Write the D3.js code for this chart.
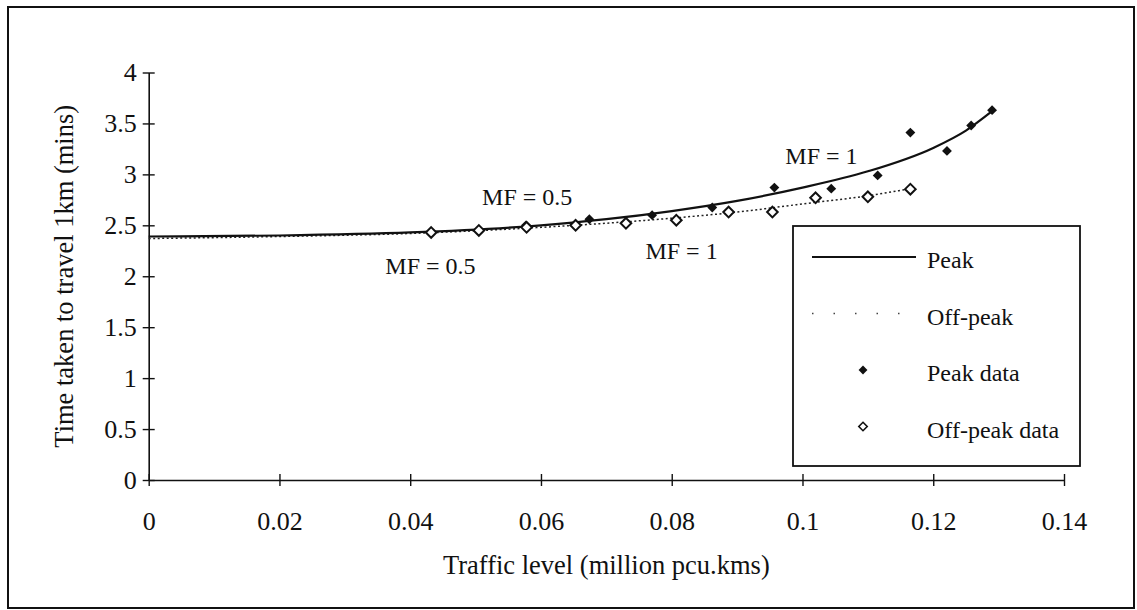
<!DOCTYPE html>
<html>
<head>
<meta charset="utf-8">
<script src="https://cdn.jsdelivr.net/npm/d3@7"></script>
<style>
  body { margin: 0; background: #fff; }
  svg text { font-family: "Liberation Serif", "Times New Roman", serif; fill: #111; }
</style>
</head>
<body>
<div id="chart"></div>
<script>
const peakDataX = [0.0577, 0.0674, 0.0770, 0.0862, 0.0957, 0.1044, 0.1115, 0.1165, 0.1221, 0.1258, 0.1290];
const peakDataY = [2.50, 2.56, 2.60, 2.675, 2.87, 2.86, 2.99, 3.41, 3.23, 3.48, 3.63];
const offDataX = [0.0432, 0.0505, 0.0578, 0.0653, 0.0730, 0.0807, 0.0887, 0.0954, 0.1020, 0.1100, 0.1165];
const offDataY = [2.43, 2.45, 2.48, 2.50, 2.52, 2.55, 2.63, 2.63, 2.77, 2.78, 2.855];

// Fitted curves
const peakCurveX = [0, 0.02, 0.04, 0.06, 0.07, 0.08, 0.09, 0.10, 0.11, 0.12, 0.125, 0.129];
const peakCurveY = [2.39, 2.40, 2.43, 2.50, 2.56, 2.64, 2.74, 2.87, 3.03, 3.26, 3.43, 3.62];
const offCurveX = [0, 0.02, 0.04, 0.06, 0.08, 0.09, 0.10, 0.11, 0.1165];
const offCurveY = [2.37, 2.39, 2.42, 2.48, 2.57, 2.63, 2.71, 2.79, 2.86];

const xTicks = [0, 0.02, 0.04, 0.06, 0.08, 0.1, 0.12, 0.14];
const xTickLabels = ["0", "0.02", "0.04", "0.06", "0.08", "0.1", "0.12", "0.14"];
const yTicks = [0, 0.5, 1, 1.5, 2, 2.5, 3, 3.5, 4];
const yTickLabels = ["0", "0.5", "1", "1.5", "2", "2.5", "3", "3.5", "4"];

const noteText = ["MF = 0.5", "MF = 0.5", "MF = 1", "MF = 1"];
const noteX = [0.0579, 0.0431, 0.0815, 0.1029];
const noteY = [2.70, 2.02, 2.17, 3.105];

const legendLabels = ["Peak", "Off-peak", "Peak data", "Off-peak data"];

const W = 1137, H = 610;
const svg = d3.select("#chart").append("svg")
    .attr("width", W)
    .attr("height", H)
    .attr("viewBox", [0, 0, W, H]);

// outer frame
svg.append("rect")
    .attr("x", 8).attr("y", 7)
    .attr("width", 1126).attr("height", 601)
    .attr("fill", "none")
    .attr("stroke", "#111")
    .attr("stroke-width", 2);

const x = d3.scaleLinear().domain([0, 0.14]).range([148.7, 1064]);
const y = d3.scaleLinear().domain([0, 4]).range([480, 72.5]);

// y axis
const yAxis = svg.append("g")
    .attr("transform", `translate(${x(0)},0)`)
    .call(d3.axisLeft(y).tickValues(yTicks).tickFormat((d, i) => yTickLabels[i])
        .tickSizeInner(6).tickSizeOuter(0).tickPadding(6));
yAxis.select(".domain").attr("stroke", "#111").attr("stroke-width", 1.6);
yAxis.selectAll(".tick line").attr("x1", -6).attr("x2", 6).attr("stroke", "#111").attr("stroke-width", 1.4);
yAxis.selectAll(".tick text").style("font-size", "26px").attr("fill", "#111");

// x axis
const xAxis = svg.append("g")
    .attr("transform", `translate(0,${y(0)})`)
    .call(d3.axisBottom(x).tickValues(xTicks).tickFormat((d, i) => xTickLabels[i])
        .tickSizeInner(6).tickSizeOuter(0));
xAxis.select(".domain").attr("stroke", "#111").attr("stroke-width", 1.6);
xAxis.selectAll(".tick line").attr("y1", -6).attr("y2", 6).attr("stroke", "#111").attr("stroke-width", 1.4);
xAxis.selectAll(".tick text").style("font-size", "26px").attr("fill", "#111")
    .attr("y", 50).attr("dy", 0);

// axis titles
svg.append("text")
    .attr("x", (x(0) + x(0.14)) / 2)
    .attr("y", 574)
    .attr("text-anchor", "middle")
    .style("font-size", "26.5px")
    .text("Traffic level (million pcu.kms)");

svg.append("text")
    .attr("transform", `translate(73,${(y(0) + y(4)) / 2}) rotate(-90)`)
    .attr("text-anchor", "middle")
    .style("font-size", "26.5px")
    .text("Time taken to travel 1km (mins)");

// fitted curves
const line = d3.line()
    .x(d => x(d[0]))
    .y(d => y(d[1]))
    .curve(d3.curveMonotoneX);

svg.append("path")
    .datum(offCurveX.map((v, i) => [v, offCurveY[i]]))
    .attr("d", line)
    .attr("fill", "none")
    .attr("stroke", "#222")
    .attr("stroke-width", 1.5)
    .attr("stroke-dasharray", "2,2.5");

svg.append("path")
    .datum(peakCurveX.map((v, i) => [v, peakCurveY[i]]))
    .attr("d", line)
    .attr("fill", "none")
    .attr("stroke", "#111")
    .attr("stroke-width", 2.2);

const diamond = d3.symbol().type(d3.symbolDiamond2);

// peak data (filled)
svg.append("g").selectAll("path")
    .data(peakDataX.map((v, i) => [v, peakDataY[i]]))
    .join("path")
    .attr("transform", d => `translate(${x(d[0])},${y(d[1])})`)
    .attr("d", diamond.size(62))
    .attr("fill", "#111");

// off-peak data (open)
svg.append("g").selectAll("path")
    .data(offDataX.map((v, i) => [v, offDataY[i]]))
    .join("path")
    .attr("transform", d => `translate(${x(d[0])},${y(d[1])})`)
    .attr("d", diamond.size(72))
    .attr("fill", "#fff")
    .attr("stroke", "#111")
    .attr("stroke-width", 2);

// MF annotations
svg.append("g").selectAll("text")
    .data(noteText)
    .join("text")
    .attr("x", (d, i) => x(noteX[i]))
    .attr("y", (d, i) => y(noteY[i]))
    .attr("text-anchor", "middle")
    .style("font-size", "24px")
    .text(d => d);

// legend
const legend = svg.append("g").attr("transform", "translate(793,226)");
legend.append("rect")
    .attr("width", 287).attr("height", 240)
    .attr("fill", "#fff")
    .attr("stroke", "#111")
    .attr("stroke-width", 1.8);

const rowY = i => 31 + i * 56.5;
const items = legend.selectAll(".item")
    .data(legendLabels)
    .join("g")
    .attr("class", "item")
    .attr("transform", (d, i) => `translate(0,${rowY(i)})`);

items.append("text")
    .attr("x", 134)
    .attr("y", 11)
    .style("font-size", "24px")
    .text(d => d);

items.filter((d, i) => i === 0).append("line")
    .attr("x1", 19).attr("x2", 123)
    .attr("stroke", "#111").attr("stroke-width", 1.8);
items.filter((d, i) => i === 1).append("line")
    .attr("x1", 19).attr("x2", 107)
    .attr("stroke", "#444").attr("stroke-width", 1.5)
    .attr("stroke-dasharray", "1.5,20");
items.filter((d, i) => i === 2).append("path")
    .attr("transform", "translate(70,0)")
    .attr("d", diamond.size(50))
    .attr("fill", "#111");
items.filter((d, i) => i === 3).append("path")
    .attr("transform", "translate(70,0)")
    .attr("d", diamond.size(45))
    .attr("fill", "#fff")
    .attr("stroke", "#111")
    .attr("stroke-width", 1.6);
</script>
</body>
</html>
